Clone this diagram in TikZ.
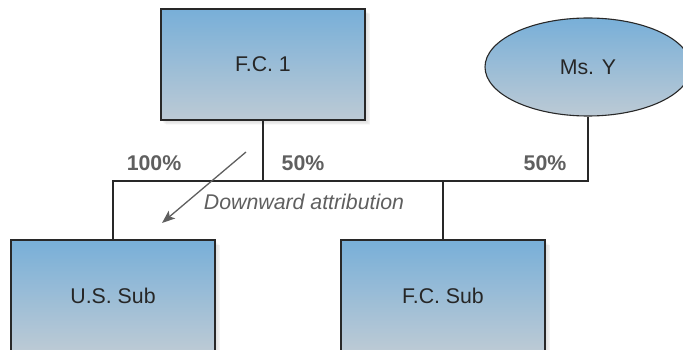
\documentclass[tikz,border=0pt]{standalone}
\usepackage{fontspec}
\setmainfont{Liberation Sans}
\usetikzlibrary{arrows.meta,shapes.geometric}
\definecolor{boxtop}{RGB}{120,175,216}
\definecolor{boxbot}{RGB}{188,202,213}
\definecolor{edge}{RGB}{40,40,40}
\definecolor{labgray}{RGB}{95,95,95}
\tikzset{
  entity/.style={draw=edge, line width=1.1pt, top color=boxtop, bottom color=boxbot,
    minimum width=204pt, minimum height=111pt, inner sep=0pt,
    font=\fontsize{21.3}{25}\selectfont, text=black!85},
  ownerbox/.style={entity, rectangle},
  ownerell/.style={entity, ellipse, minimum width=206pt, minimum height=98pt},
  link/.style={draw=edge, line width=1.4pt},
  pct/.style={font=\fontsize{21.3}{25}\selectfont\bfseries, text=labgray},
  note/.style={font=\fontsize{21.3}{25}\selectfont\itshape, text=labgray},
  attrarrow/.style={draw=labgray, line width=1.3pt, -{Stealth[length=13pt,width=10pt,inset=3pt]}}
}
\newcommand{\softshadow}[4]{% x1 y1 x2 y2 of the box
  \foreach \k in {1,...,6}{
    \fill[black, opacity=0.025] (#1+\k*0.8, #2+\k*0.9) rectangle (#3+\k*0.9, #4+\k*0.9);
  }}
\begin{document}
\begin{tikzpicture}[x=1pt, y=-1pt]
  \useasboundingbox (0,0) rectangle (683,350);
  \clip (0,0) rectangle (683,350);

  % soft shadows behind the boxes
  \softshadow{161}{9}{365}{120}
  \softshadow{11}{240}{215}{351}
  \softshadow{341}{240}{545}{351}

  % entities
  \node[ownerbox] (fc1)   at (263,64.5)  {F.C. 1};
  \node[ownerell] (msy)   at (588,67)    {Ms. Y};
  \node[ownerbox] (ussub) at (113,295.5) {U.S. Sub};
  \node[ownerbox] (fcsub) at (443,295.5) {F.C. Sub};

  % ownership lines joined by a common bus
  \coordinate (bus) at (0,181);
  \draw[link] (ussub.north) -- (ussub.north |- bus) -- (msy.south |- bus) -- (msy.south);
  \draw[link] (fc1.south) -- (fc1.south |- bus);
  \draw[link] (fcsub.north) -- (fcsub.north |- bus);

  % percentages
  \node[pct] (p100)  at (154,163) {100\%};
  \node[pct] (p50a)  at (303,163) {50\%};
  \node[pct] (p50b)  at (545,163) {50\%};

  % attribution note and arrow
  \node[note] (attr) at (304,202) {Downward attribution};
  \coordinate (arrS) at (246,152);
  \coordinate (arrE) at (162,223);
  \draw[attrarrow] (arrS) -- (arrE);
\end{tikzpicture}
\end{document}
